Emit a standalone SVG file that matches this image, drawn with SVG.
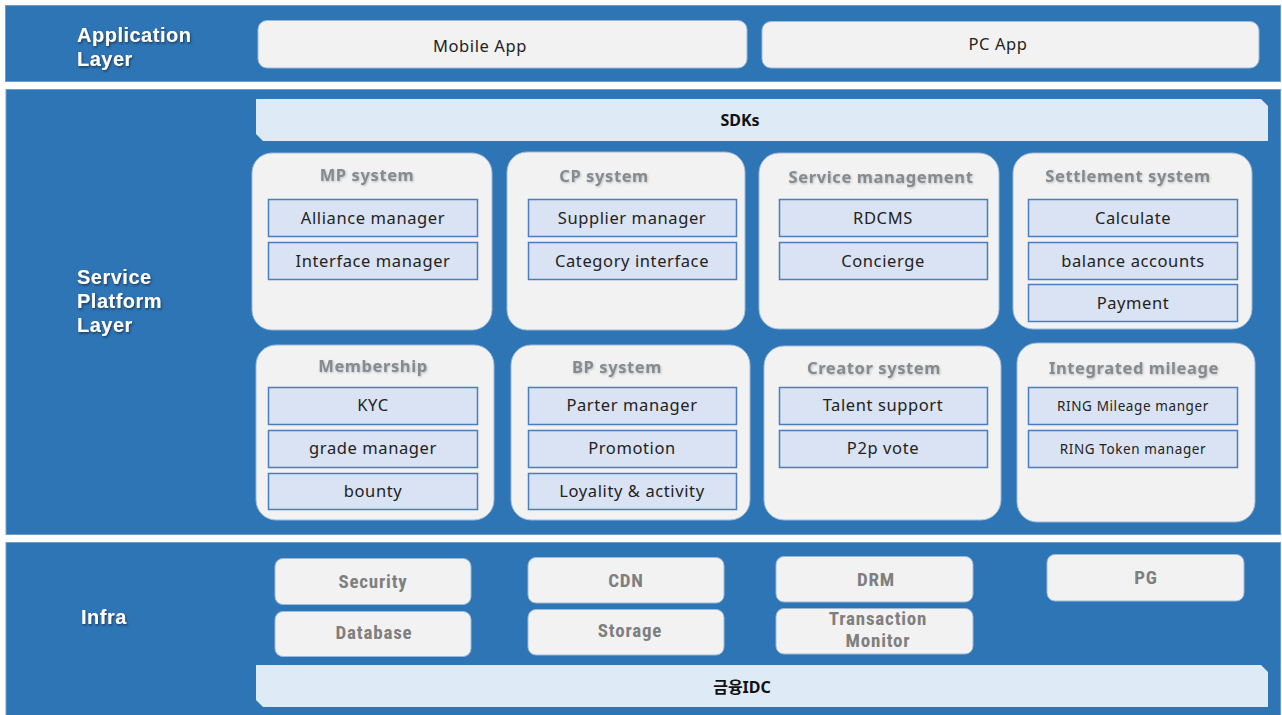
<svg xmlns="http://www.w3.org/2000/svg" width="1282" height="715" viewBox="0 0 1282 715">
  <defs>
    <filter id="shadow" x="-10%" y="-20%" width="130%" height="150%">
      <feDropShadow dx="1" dy="1.5" stdDeviation="1" flood-color="#1a2a40" flood-opacity="0.8"/>
    </filter>
    <filter id="soft" x="-10%" y="-20%" width="130%" height="150%">
      <feDropShadow dx="0.8" dy="1" stdDeviation="0.8" flood-color="#9aa8b8" flood-opacity="0.7"/>
    </filter>
  </defs>
  <style>
    .band { fill: #2E75B6; stroke: #6A9FD0; stroke-width: 1; }
    .layer { font-family: "Liberation Sans", Arial, sans-serif; font-weight: bold; font-size: 20px; letter-spacing: 0.5px; fill: #ffffff; }
    .app { fill: #F2F2F2; stroke: #9DB9D8; stroke-width: 1; }
    .bar { fill: #DEEBF7; }
    .card { fill: #F2F2F2; stroke: #9DB9D8; stroke-width: 1; }
    .item { fill: #DAE3F3; stroke: #4A7EC0; stroke-width: 1.5; }
    .title { font-family: "Noto Sans", "Open Sans", sans-serif; font-weight: bold; font-size: 16.5px; letter-spacing: 0.6px; fill: #8A8A8A; text-anchor: middle; }
    .label { font-family: "Noto Sans", "Open Sans", sans-serif; font-size: 16.5px; letter-spacing: 0.6px; fill: #222222; text-anchor: middle; }
    .small { font-family: "Noto Sans", "Open Sans", sans-serif; font-size: 13.5px; letter-spacing: 0.6px; fill: #222222; text-anchor: middle; }
    .infra { fill: #F2F2F2; stroke: #9DB9D8; stroke-width: 1; }
    .itxt { font-family: "Roboto Condensed", "Liberation Sans Narrow", "Noto Sans", sans-serif; font-weight: bold; font-size: 19px; letter-spacing: 0.8px; fill: #7F7F7F; text-anchor: middle; }
    .bold { font-family: "Noto Sans", "Noto Sans CJK KR", sans-serif; font-weight: bold; font-size: 16px; fill: #111111; text-anchor: middle; }
  </style>

  <rect width="1282" height="715" fill="#ffffff"/>

  <!-- Application layer -->
  <g id="application-layer">
    <rect class="band" x="5.5" y="5.5" width="1275" height="76"/>
    <text class="layer" x="77" y="42" filter="url(#shadow)">Application</text>
    <text class="layer" x="77" y="66" filter="url(#shadow)">Layer</text>
  </g>
  <g id="mobile-app">
    <rect class="app" x="258" y="20.5" width="489" height="47.5" rx="9"/>
    <text class="label" x="480" y="52" font-size="17" letter-spacing="0.9">Mobile App</text>
  </g>
  <g id="pc-app">
    <rect class="app" x="762" y="21.5" width="497" height="46.5" rx="9"/>
    <text class="label" x="998" y="50" font-size="17" letter-spacing="0.9">PC App</text>
  </g>

  <!-- Service platform layer -->
  <g id="service-platform-layer">
    <rect class="band" x="6" y="89.5" width="1274.5" height="445"/>
    <text class="layer" x="77" y="284" filter="url(#shadow)">Service</text>
    <text class="layer" x="77" y="308" filter="url(#shadow)">Platform</text>
    <text class="layer" x="77" y="332" filter="url(#shadow)">Layer</text>
  </g>
  <g id="sdks">
    <path class="bar" d="M256 99 H1261 L1268 106 V141 H263 L256 134 Z"/>
    <text class="bold" x="740" y="126">SDKs</text>
  </g>

  <g id="mp-system">
    <rect class="card" x="252" y="153" width="240" height="177" rx="20"/>
    <text class="title" x="367" y="181" filter="url(#soft)">MP system</text>
    <rect class="item" x="268.5" y="199.5" width="209" height="37"/>
    <text class="label" x="373" y="224">Alliance manager</text>
    <rect class="item" x="268.5" y="242.5" width="209" height="37"/>
    <text class="label" x="373" y="267">Interface manager</text>
  </g>

  <g id="cp-system">
    <rect class="card" x="507" y="152" width="238" height="178" rx="20"/>
    <text class="title" x="604" y="182" filter="url(#soft)">CP system</text>
    <rect class="item" x="528.5" y="199.5" width="208" height="37"/>
    <text class="label" x="632" y="224">Supplier manager</text>
    <rect class="item" x="528.5" y="242.5" width="208" height="37"/>
    <text class="label" x="632" y="267">Category interface</text>
  </g>

  <g id="service-management">
    <rect class="card" x="759" y="153" width="240" height="176" rx="20"/>
    <text class="title" x="881" y="183" filter="url(#soft)">Service management</text>
    <rect class="item" x="779.5" y="199.5" width="208" height="37"/>
    <text class="label" x="883" y="224">RDCMS</text>
    <rect class="item" x="779.5" y="242.5" width="208" height="37"/>
    <text class="label" x="883" y="267">Concierge</text>
  </g>

  <g id="settlement-system">
    <rect class="card" x="1013" y="153" width="239" height="176" rx="20"/>
    <text class="title" x="1128" y="182" filter="url(#soft)">Settlement system</text>
    <rect class="item" x="1028.5" y="199.5" width="209" height="37"/>
    <text class="label" x="1133" y="224">Calculate</text>
    <rect class="item" x="1028.5" y="242.5" width="209" height="37"/>
    <text class="label" x="1133" y="267">balance accounts</text>
    <rect class="item" x="1028.5" y="284.5" width="209" height="37"/>
    <text class="label" x="1133" y="309">Payment</text>
  </g>

  <g id="membership">
    <rect class="card" x="256" y="345" width="238" height="175" rx="20"/>
    <text class="title" x="373" y="372" filter="url(#soft)">Membership</text>
    <rect class="item" x="268.5" y="387.5" width="209" height="37"/>
    <text class="label" x="373" y="411">KYC</text>
    <rect class="item" x="268.5" y="430.5" width="209" height="37"/>
    <text class="label" x="373" y="454">grade manager</text>
    <rect class="item" x="268.5" y="473.5" width="209" height="36"/>
    <text class="label" x="373" y="497">bounty</text>
  </g>

  <g id="bp-system">
    <rect class="card" x="511" y="345" width="239" height="175" rx="20"/>
    <text class="title" x="617" y="373" filter="url(#soft)">BP system</text>
    <rect class="item" x="528.5" y="387.5" width="208" height="37"/>
    <text class="label" x="632" y="411">Parter manager</text>
    <rect class="item" x="528.5" y="430.5" width="208" height="37"/>
    <text class="label" x="632" y="454">Promotion</text>
    <rect class="item" x="528.5" y="473.5" width="208" height="36"/>
    <text class="label" x="632" y="497">Loyality &amp; activity</text>
  </g>

  <g id="creator-system">
    <rect class="card" x="764" y="346" width="237" height="174" rx="20"/>
    <text class="title" x="874" y="374" filter="url(#soft)">Creator system</text>
    <rect class="item" x="779.5" y="387.5" width="208" height="37"/>
    <text class="label" x="883" y="411">Talent support</text>
    <rect class="item" x="779.5" y="430.5" width="208" height="37"/>
    <text class="label" x="883" y="454">P2p vote</text>
  </g>

  <g id="integrated-mileage">
    <rect class="card" x="1017" y="343" width="238" height="179" rx="20"/>
    <text class="title" x="1134" y="374" filter="url(#soft)">Integrated mileage</text>
    <rect class="item" x="1028.5" y="387.5" width="209" height="37"/>
    <text class="small" x="1133" y="411">RING Mileage manger</text>
    <rect class="item" x="1028.5" y="430.5" width="209" height="37"/>
    <text class="small" x="1133" y="454">RING Token manager</text>
  </g>

  <!-- Infra layer -->
  <g id="infra-layer">
    <rect class="band" x="6" y="542.5" width="1274.5" height="180"/>
    <text class="layer" x="81" y="624" filter="url(#shadow)">Infra</text>
  </g>
  <g id="security">
    <rect class="infra" x="275" y="558.5" width="196" height="46" rx="8"/>
    <text class="itxt" x="373" y="588">Security</text>
  </g>
  <g id="database">
    <rect class="infra" x="275" y="611.5" width="196" height="45" rx="8"/>
    <text class="itxt" x="374" y="639">Database</text>
  </g>
  <g id="cdn">
    <rect class="infra" x="528" y="557.5" width="196" height="45.5" rx="8"/>
    <text class="itxt" x="626" y="587">CDN</text>
  </g>
  <g id="storage">
    <rect class="infra" x="528" y="609.5" width="196" height="45.5" rx="8"/>
    <text class="itxt" x="630" y="637">Storage</text>
  </g>
  <g id="drm">
    <rect class="infra" x="776" y="556.5" width="197" height="45.5" rx="8"/>
    <text class="itxt" x="876" y="586">DRM</text>
  </g>
  <g id="transaction-monitor">
    <rect class="infra" x="776" y="608.5" width="197" height="45.5" rx="8"/>
    <text class="itxt" x="878" y="625" font-size="16">Transaction</text>
    <text class="itxt" x="878" y="647" font-size="16">Monitor</text>
  </g>
  <g id="pg">
    <rect class="infra" x="1047" y="554.5" width="197" height="46.5" rx="8"/>
    <text class="itxt" x="1146" y="584">PG</text>
  </g>
  <g id="idc">
    <path class="bar" d="M256 665 H1261 L1268 672 V707 H263 L256 700 Z"/>
    <text class="bold" x="742" y="693" font-family="'Noto Sans CJK KR', sans-serif">금융IDC</text>
  </g>

  <!-- no connectors in this layered view -->
  <g id="connectors"/>
</svg>
